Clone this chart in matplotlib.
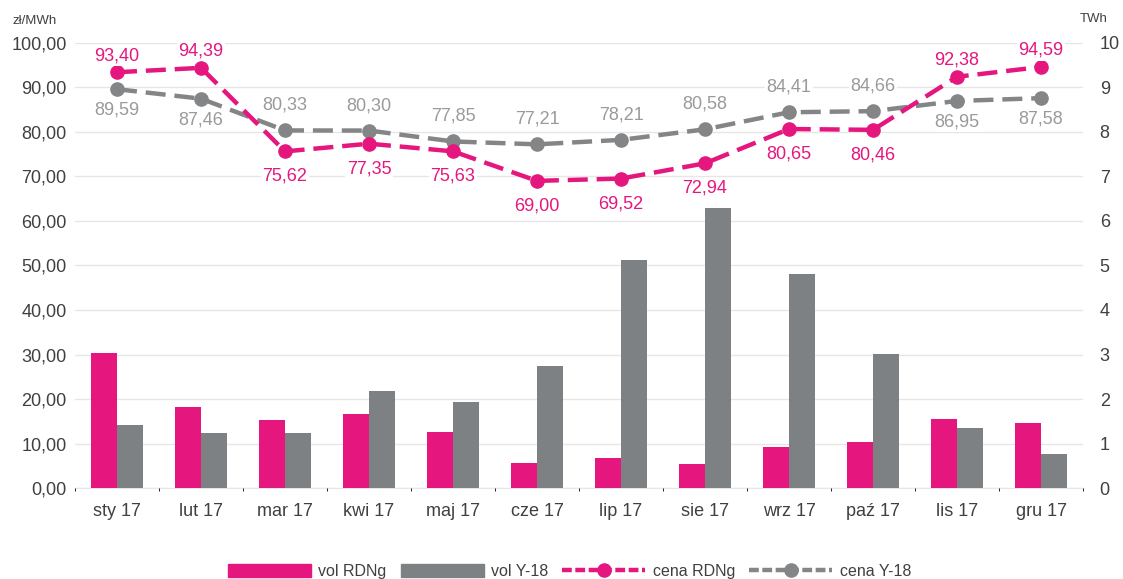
import matplotlib
matplotlib.use("Agg")
import matplotlib.pyplot as plt
import numpy as np
from matplotlib.lines import Line2D
from matplotlib.patches import Patch

plt.rcParams['font.family'] = ['Liberation Sans', 'DejaVu Sans']

months = ["sty 17", "lut 17", "mar 17", "kwi 17", "maj 17", "cze 17",
          "lip 17", "sie 17", "wrz 17", "paź 17", "lis 17", "gru 17"]
vol_rdng = [3.04, 1.83, 1.54, 1.67, 1.27, 0.57, 0.67, 0.54, 0.93, 1.04, 1.56, 1.47]
vol_y18 = [1.42, 1.24, 1.24, 2.18, 1.94, 2.75, 5.12, 6.29, 4.81, 3.02, 1.35, 0.77]
cena_rdng = [93.40, 94.39, 75.62, 77.35, 75.63, 69.00, 69.52, 72.94, 80.65, 80.46, 92.38, 94.59]
cena_y18 = [89.59, 87.46, 80.33, 80.30, 77.85, 77.21, 78.21, 80.58, 84.41, 84.66, 86.95, 87.58]
left_ticks = [0, 10, 20, 30, 40, 50, 60, 70, 80, 90, 100]
right_ticks = [0, 1, 2, 3, 4, 5, 6, 7, 8, 9, 10]

PINK = '#E5177E'
GREY = '#7E8184'
LGREY = '#838587'
GRID = '#E6E6E6'
TXT = '#404040'
FS = 13

fig = plt.figure(figsize=(11.23, 5.79), dpi=100)
ax = fig.add_axes([0.0668, 0.157, 0.8976, 0.769])
axb = ax.twinx()

x = np.arange(len(months))
w = 0.31
axb.bar(x - w / 2, vol_rdng, w, color=PINK, zorder=3)
axb.bar(x + w / 2, vol_y18, w, color=GREY, zorder=3)
axb.set_ylim(0, 10)
axb.set_yticks(right_ticks)
axb.set_yticklabels([str(t) for t in right_ticks])
axb.grid(axis='y', color=GRID, lw=1, zorder=0)
axb.set_xticks(list(x - 0.5) + [len(months) - 0.5], minor=True)
axb.grid(axis='x', which='minor', color=GRID, lw=1, zorder=0)
axb.tick_params(axis='y', length=0, labelsize=FS, labelcolor=TXT, pad=12)
axb.tick_params(axis='x', which='minor', length=7, color=GRID, width=1)

ax.set_zorder(axb.get_zorder() + 1)
ax.patch.set_visible(False)

ax.plot(x, cena_y18, color=LGREY, lw=3.2, dashes=(4.5, 2), marker='o', ms=9.5, zorder=4)
ax.plot(x, cena_rdng, color=PINK, lw=3.2, dashes=(4.5, 2), marker='o', ms=9.5, zorder=5)

above_pink = [True, True, False, False, False, False, False, False, False, False, True, True]
for i, (p, g) in enumerate(zip(cena_rdng, cena_y18)):
    off = 12 if above_pink[i] else -18
    ax.annotate(f"{p:.2f}".replace('.', ','), (i, p), xytext=(0, off), textcoords='offset points',
                ha='center', va='center', color=PINK, fontsize=FS, zorder=6,
                bbox=dict(boxstyle='square,pad=0.1', fc='white', ec='none'))
    offg = -15 if above_pink[i] else 18
    ax.annotate(f"{g:.2f}".replace('.', ','), (i, g), xytext=(0, offg), textcoords='offset points',
                ha='center', va='center', color='#9A9A9A', fontsize=FS, zorder=6,
                bbox=dict(boxstyle='square,pad=0.1', fc='white', ec='none'))

ax.set_ylim(0, 100)
ax.set_xlim(-0.5, len(months) - 0.5)
axb.set_xlim(-0.5, len(months) - 0.5)
ax.set_yticks(left_ticks)
ax.set_yticklabels([f"{t:.2f}".replace('.', ',') for t in left_ticks])
ax.set_xticks(x)
ax.set_xticklabels(months)
ax.tick_params(axis='both', length=0, labelsize=FS, labelcolor=TXT)
ax.tick_params(axis='y', pad=6)
ax.tick_params(axis='x', pad=11)
for a in (ax, axb):
    for s in a.spines.values():
        s.set_visible(False)
axb.spines['bottom'].set_visible(True)
axb.spines['bottom'].set_color(GRID)

fig.text(0.011, 0.963, "zł/MWh", fontsize=9.5, color=TXT, ha='left', va='center')
fig.text(0.986, 0.968, "TWh", fontsize=9.5, color=TXT, ha='right', va='center')

handles = [Patch(color=PINK), Patch(color=GREY),
           Line2D([], [], color=PINK, lw=3.2, dashes=(2.2, 0.8), marker='o', ms=9.5),
           Line2D([], [], color=LGREY, lw=3.2, dashes=(2.2, 0.8), marker='o', ms=9.5)]
labels = ["vol RDNg", "vol Y-18", "cena RDNg", "cena Y-18"]
fig.legend(handles, labels, loc='lower center', bbox_to_anchor=(0.507, -0.025), ncol=4,
           frameon=False, fontsize=11.5, handlelength=5.2, handleheight=0.85,
           columnspacing=0.9, handletextpad=0.45, labelcolor=TXT)

fig.savefig("out.png", dpi=100, facecolor='white')
